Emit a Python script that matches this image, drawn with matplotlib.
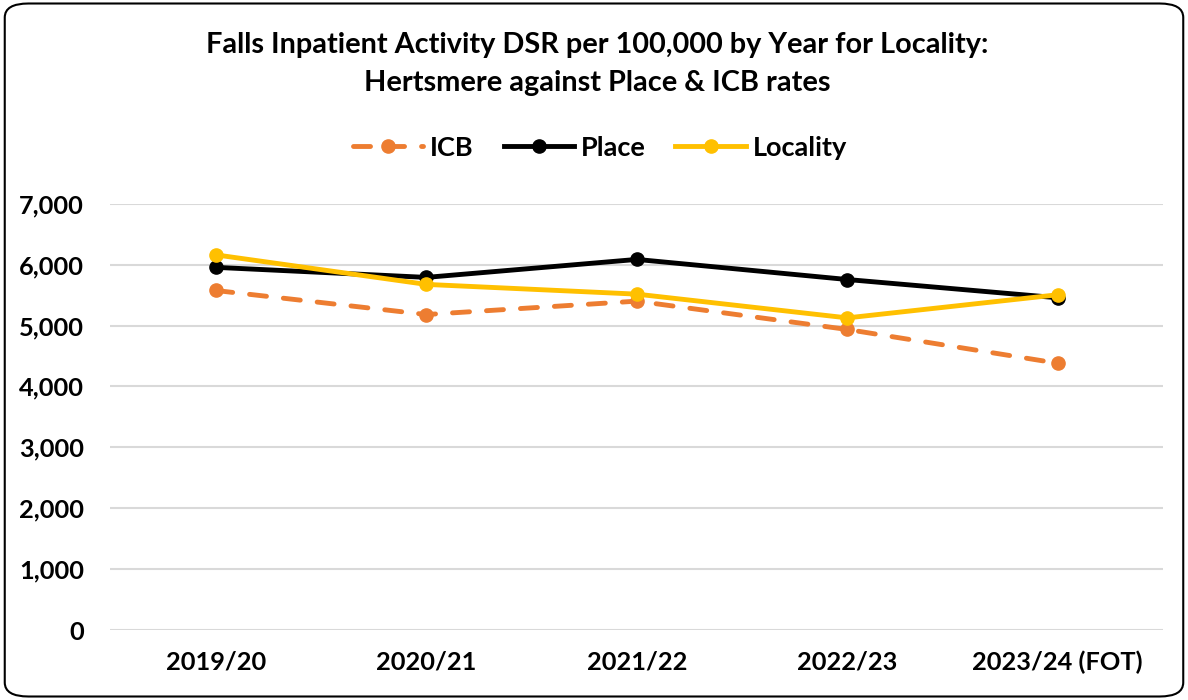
# Falls inpatient activity DSR line chart
import matplotlib.pyplot as plt
from matplotlib.patches import FancyBboxPatch
from matplotlib.ticker import FuncFormatter

plt.rcParams['font.family'] = ['Lato', 'DejaVu Sans']
plt.rcParams['font.weight'] = 'bold'

# data
years = ['2019/20', '2020/21', '2021/22', '2022/23', '2023/24 (FOT)']
icb = [5575, 5180, 5400, 4935, 4380]
place = [5955, 5790, 6085, 5755, 5455]
locality = [6160, 5675, 5515, 5125, 5505]

fig = plt.figure(figsize=(11.88, 7), dpi=100)
ax = fig.add_axes([0.093, 0.1, 0.886, 0.609])

x = range(len(years))
ax.plot(x, icb, color='#ED7D31', lw=3.5, ls=(0, (3.5, 3.5)), marker='o', ms=9.5,
        dash_capstyle='round', label='ICB', zorder=3)
ax.plot(x, place, color='black', lw=3.5, marker='o', ms=9.5, label='Place', zorder=4)
ax.plot(x, locality, color='#FFC000', lw=3.5, marker='o', ms=9.5, label='Locality', zorder=5)

ax.set_ylim(0, 7000)
ax.set_yticks(range(0, 7001, 1000))
ax.yaxis.set_major_formatter(FuncFormatter(lambda v, p: f'{int(v):,}'))
ax.set_xlim(-0.5, len(years) - 0.5)
ax.set_xticks(list(x))
ax.set_xticklabels(years)
ax.grid(axis='y', color='#d9d9d9', lw=1.5, zorder=0)
ax.tick_params(length=0, labelsize=18.3, pad=15)
ax.tick_params(axis='y', pad=19)
for s in ax.spines.values():
    s.set_visible(False)

fig.text(0.503, 0.935, 'Falls Inpatient Activity DSR per 100,000 by Year for Locality:',
         ha='center', va='center', fontsize=20.8, fontweight='bold')
fig.text(0.503, 0.881, 'Hertsmere against Place & ICB rates',
         ha='center', va='center', fontsize=20.8, fontweight='bold')

leg = fig.legend(loc='center', bbox_to_anchor=(0.505, 0.789), ncol=3, frameon=False,
                 fontsize=19.5, handlelength=2.6, columnspacing=1.1, handletextpad=0.25)

border = FancyBboxPatch((0.004, 0.005), 0.992, 0.99, boxstyle='round,pad=0,rounding_size=0.02',
                        transform=fig.transFigure, fill=False, ec='black', lw=1.5)
fig.patches.append(border)

plt.savefig('out.png')
